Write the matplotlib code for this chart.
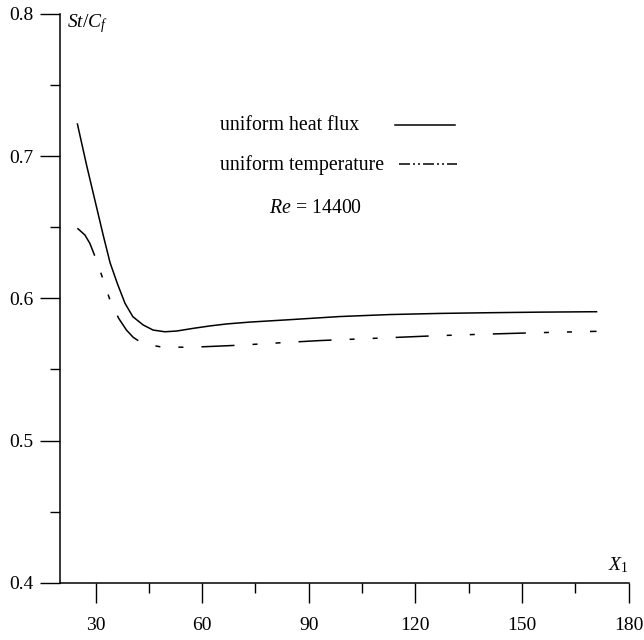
import matplotlib
matplotlib.use("Agg")
import matplotlib.pyplot as plt

plt.rcParams['font.family'] = ['Liberation Serif', 'DejaVu Serif']
plt.rcParams['mathtext.fontset'] = 'custom'
plt.rcParams['mathtext.rm'] = 'Liberation Serif'
plt.rcParams['mathtext.it'] = 'Liberation Serif:italic'
plt.rcParams['lines.scale_dashes'] = False

# uniform heat flux (solid)
x_flux = [24.9, 27.5, 30.3, 32.2, 34.1, 36.2, 38.3, 40.5, 43.4, 46.2, 49.5,
          52.8, 57.5, 62.2, 66.9, 73.4, 84.7, 98.7, 112.8, 126.9, 140.9, 155.0, 171.0]
y_flux = [0.7226, 0.6935, 0.6640, 0.6440, 0.6250, 0.6100, 0.5965, 0.5871, 0.5813,
          0.5777, 0.5765, 0.5770, 0.5789, 0.5806, 0.5820, 0.5833, 0.5850, 0.5872,
          0.5886, 0.5894, 0.5899, 0.5903, 0.5906]

# uniform temperature (dash-dot-dot)
x_temp = [24.9, 27.0, 28.4, 29.8, 31.7, 33.9, 36.5, 38.7, 40.6, 42.5, 45.0,
          48.1, 54.9, 60.8, 70.1, 82.4, 93.1, 110.5, 125.7, 138.1, 153.6, 166.0, 171.0]
y_temp = [0.6493, 0.6446, 0.6387, 0.6298, 0.6164, 0.6000, 0.5860, 0.5777, 0.5726,
          0.5695, 0.5673, 0.5660, 0.5656, 0.5660, 0.5670, 0.5688, 0.5703, 0.5721,
          0.5737, 0.5747, 0.5758, 0.5765, 0.5768]

curve_dash = [23.8, 13, 3.6, 13, 3.6, 13]
sample_dash = [7.9, 2.2, 1.4, 2.2, 1.4, 2.2]

fig = plt.figure(figsize=(6.44, 6.4), dpi=100)
ax = fig.add_axes([60 / 644, 57.3 / 640, 568.5 / 644, 568.7 / 640])

ax.plot(x_flux, y_flux, color='black', lw=1.1, solid_joinstyle='round')
ax.plot(x_temp, y_temp, color='black', lw=1.1, dashes=curve_dash,
        dash_joinstyle='round')

ax.set_xlim(20, 180)
ax.set_ylim(0.4, 0.8)
for s in ['top', 'right']:
    ax.spines[s].set_visible(False)
for s in ['left', 'bottom']:
    ax.spines[s].set_linewidth(1.1)

ax.set_xticks([30, 60, 90, 120, 150, 180])
ax.set_xticks([45, 75, 105, 135, 165], minor=True)
ax.set_yticks([0.4, 0.5, 0.6, 0.7, 0.8])
ax.set_yticks([0.45, 0.55, 0.65, 0.75], minor=True)
ax.set_yticklabels(['0.4', '0.5', '0.6', '0.7', '0.8'])
ax.tick_params(axis='both', which='major', direction='out', length=14.4, width=1.0,
               labelsize=14)
ax.tick_params(axis='both', which='minor', direction='out', length=7.2, width=1.0)
ax.tick_params(axis='x', which='major', pad=10)
ax.tick_params(axis='y', which='major', pad=5)

ax.text(22.0, 0.7908, r'$St/C_f$', fontsize=14, ha='left', va='baseline')
ax.text(174.1, 0.4089, r'$X_{\mathrm{1}}$', fontsize=14, ha='left', va='baseline')

# legend drawn by hand
ax.text(65.0, 0.7184, 'uniform heat flux', fontsize=14.3, ha='left', va='baseline')
ax.plot([114.2, 131.1], [0.7219, 0.7219], color='black', lw=1.1)
ax.text(65.0, 0.6903, 'uniform temperature', fontsize=14.3, ha='left', va='baseline')
ax.plot([115.3, 131.6], [0.6943, 0.6943], color='black', lw=1.1, dashes=sample_dash)
ax.text(91.9, 0.6602, r'$Re$ = 14400', fontsize=14.3, ha='center', va='baseline')

fig.savefig('out.png', dpi=100)
